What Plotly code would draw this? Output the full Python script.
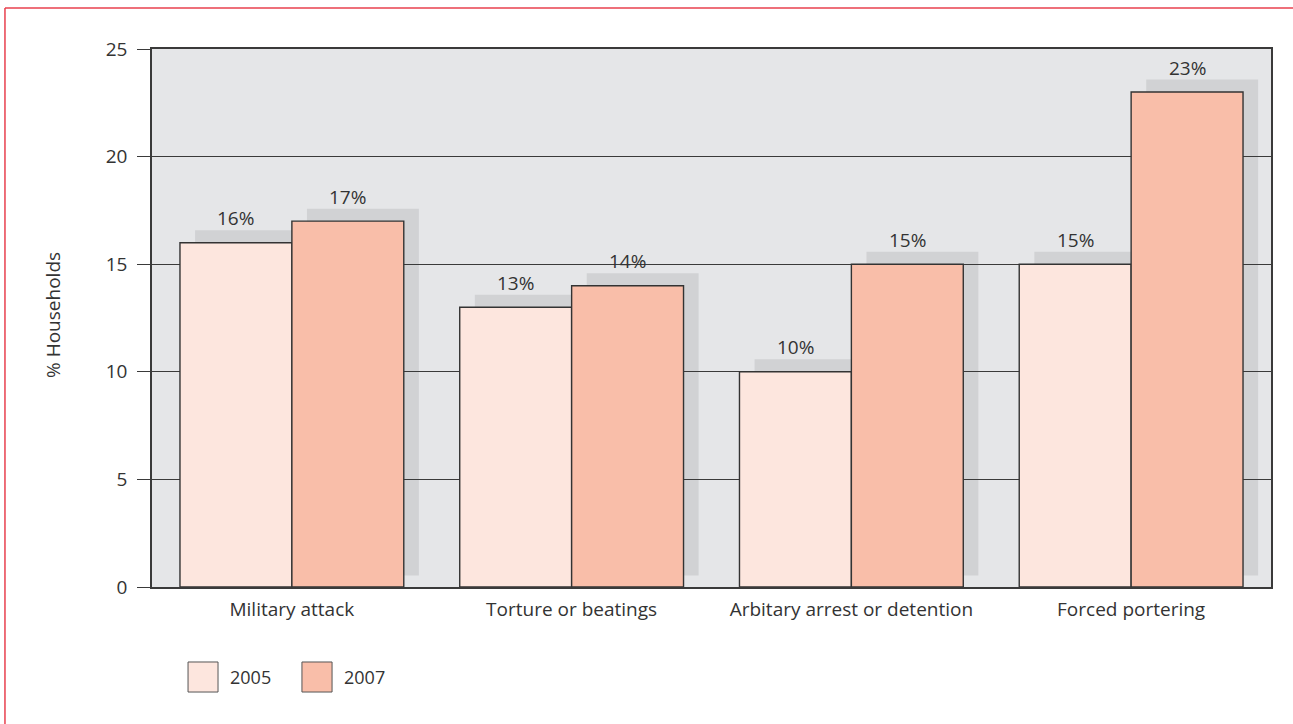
import plotly.graph_objects as go

# Household exposure to abuses, by survey year
categories = ["Military attack", "Torture or beatings",
              "Arbitary arrest or detention", "Forced portering"]
values_2005 = [16, 13, 10, 15]
values_2007 = [17, 14, 15, 23]
years = ["2005", "2007"]
y_ticks = [0, 5, 10, 15, 20, 25]

colors = {"2005": "#fde6de", "2007": "#f9bea9"}
bg = "#e5e6e8"
shadow_col = "#d1d2d4"
ink = "#333333"
font_family = "Open Sans, Lato, sans-serif"

bar_w = 0.4
offsets = {"2005": -bar_w, "2007": 0.0}
series = {"2005": values_2005, "2007": values_2007}

# drop-shadow displacement (category units, value units)
sh_dx, sh_dy, sh_base = 0.054, 0.58, 0.53

fig = go.Figure()
shapes = []
annotations = []

for yr in years:
    vals = series[yr]
    fig.add_trace(go.Bar(
        x=categories, y=vals, name=yr,
        offset=offsets[yr], width=bar_w,
        marker=dict(color=colors[yr], line=dict(color=ink, width=1.4)),
        showlegend=False, hoverinfo="x+y",
    ))
    for i, v in enumerate(vals):
        x0 = i + offsets[yr]
        # soft grey block behind each bar, below the gridlines
        shapes.append(dict(
            type="rect", xref="x", yref="y", layer="below",
            x0=x0 + sh_dx, x1=x0 + bar_w + sh_dx,
            y0=sh_base, y1=v + sh_dy,
            fillcolor=shadow_col, line=dict(width=0),
        ))
        annotations.append(dict(
            x=x0 + bar_w / 2, y=v + sh_dy, xref="x", yref="y",
            text=f"{v}%", showarrow=False, yanchor="bottom", yshift=-3,
            font=dict(family=font_family, size=19, color=ink),
        ))

# outer frame lines
frame = "#e8404e"
shapes.append(dict(type="line", xref="paper", yref="paper",
                   x0=-0.1314, x1=1.03, y0=1.0762, y1=1.0762,
                   line=dict(color=frame, width=1.5)))
shapes.append(dict(type="line", xref="paper", yref="paper",
                   x0=-0.1314, x1=-0.1314, y0=1.0762, y1=-0.26,
                   line=dict(color=frame, width=1.5)))

# legend swatches
legend_pos = {"2005": (0.0322, 0.0590, 0.0679), "2007": (0.1340, 0.1609, 0.1698)}
for yr in years:
    sx0, sx1, tx = legend_pos[yr]
    shapes.append(dict(type="rect", xref="paper", yref="paper",
                       x0=sx0, x1=sx1, y0=-0.1952, y1=-0.1394,
                       fillcolor=colors[yr], line=dict(color="#555555", width=1)))
    annotations.append(dict(x=tx, y=-0.1673, xref="paper", yref="paper",
                            text=yr, showarrow=False, xanchor="left", yanchor="middle",
                            font=dict(family=font_family, size=18, color=ink)))

annotations.append(dict(x=-0.0885, y=0.5056, xref="paper", yref="paper",
                        text="% Households", showarrow=False, textangle=-90,
                        xanchor="center", yanchor="middle",
                        font=dict(family=font_family, size=19, color=ink)))

fig.update_layout(
    width=1293, height=724,
    margin=dict(l=152, r=22, t=49, b=137),
    paper_bgcolor="white", plot_bgcolor=bg,
    barmode="overlay", bargap=0.2,
    shapes=shapes, annotations=annotations,
    font=dict(family=font_family, size=19, color=ink),
)
fig.update_xaxes(
    type="category", range=[-0.5, len(categories) - 0.5],
    showgrid=False, showline=True, linecolor="#3a3a3a", linewidth=1.5,
    mirror=True, ticks="", ticklabelstandoff=4,
    tickfont=dict(family=font_family, size=19, color=ink),
)
fig.update_yaxes(
    range=[0, 25], tickvals=y_ticks, ticktext=[str(t) for t in y_ticks],
    showgrid=True, gridcolor="#3a3a3a", gridwidth=1, zeroline=False,
    showline=True, linecolor="#3a3a3a", linewidth=1.5, mirror=True,
    ticks="outside", ticklen=13, tickcolor="#3a3a3a", tickwidth=1.2,
    ticklabelstandoff=6,
    tickfont=dict(family=font_family, size=19, color=ink),
)

fig.write_html("out.html")
